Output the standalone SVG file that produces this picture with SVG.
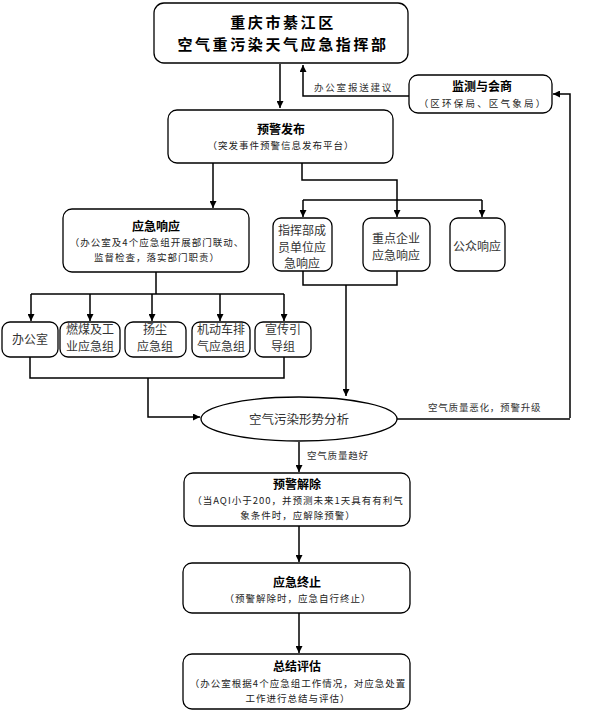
<svg xmlns="http://www.w3.org/2000/svg" width="591" height="712" viewBox="0 0 591 712">
<defs>
<marker id="ah" viewBox="0 0 10 10" refX="10" refY="5" markerWidth="7" markerHeight="7" markerUnits="userSpaceOnUse" orient="auto">
<path d="M0,0 L10,5 L0,10 z" fill="#000"/>
</marker>
<style>
.box{fill:#fff;stroke:#000;stroke-width:1.3}
.c{fill:none;stroke:#000;stroke-width:1.5}
.a{marker-end:url(#ah)}
text{font-family:"Noto Sans CJK SC","Noto Sans",sans-serif;fill:#222;text-anchor:middle}
.big{font-size:15px;font-weight:bold;letter-spacing:2.6px;fill:#000}
.t{font-size:12px;font-weight:bold;fill:#000}
.s{font-size:9.5px;letter-spacing:1px}
.m{font-size:12px;fill:#333}
.l{font-size:9.5px;text-anchor:start;fill:#333;letter-spacing:0.8px}
</style>
</defs>
<rect width="591" height="712" fill="#fff"/>
<g id="connectors">
<path class="c a" d="M280,64 V108"/>
<path class="c a" d="M409,96 H303 V65"/>
<path class="c a" d="M570,418 V94 H553"/>
<path class="c a" d="M213,163 V208"/>
<path class="c a" d="M302,163 V180 H397 V217"/>
<path class="c a" d="M303,200 V217"/>
<path class="c" d="M303,200 H482"/>
<path class="c a" d="M482,200 V217"/>
<path class="c" d="M156,272 V294"/>
<path class="c" d="M31,294 H284"/>
<path class="c a" d="M31,294 V321"/>
<path class="c a" d="M90,294 V321"/>
<path class="c a" d="M152,294 V321"/>
<path class="c a" d="M220,294 V321"/>
<path class="c a" d="M284,294 V321"/>
<path class="c" d="M30,357 V378 H284 V357"/>
<path class="c a" d="M148,378 V417 H200"/>
<path class="c" d="M303,271 V285 H397 V271"/>
<path class="c a" d="M346,285 V396"/>
<path class="c" d="M397,419 H570"/>
<path class="c a" d="M299,442 V472"/>
<path class="c a" d="M299,526 V562"/>
<path class="c a" d="M299,613 V653"/>
<text class="l" x="314" y="91" style="letter-spacing:1.8px">办公室报送建议</text>
<text class="l" x="428" y="411">空气质量恶化，预警升级</text>
<text class="l" x="307" y="459">空气质量趋好</text>
</g>
<g id="command">
<rect class="box" x="154" y="3" width="254" height="60" rx="10"/>
<text class="big" x="283" y="28">重庆市綦江区</text>
<text class="big" x="283" y="50">空气重污染天气应急指挥部</text>
</g>
<g id="monitor">
<rect class="box" x="409" y="75" width="143" height="38" rx="9"/>
<text class="t" x="482" y="91">监测与会商</text>
<text class="s" x="483" y="107" style="letter-spacing:2.2px">（区环保局、区气象局）</text>
</g>
<g id="warn">
<rect class="box" x="168" y="110" width="225" height="53" rx="9"/>
<text class="t" x="281" y="134">预警发布</text>
<text class="s" x="281" y="149">（突发事件预警信息发布平台）</text>
</g>
<g id="response">
<rect class="box" x="63" y="209" width="186" height="63" rx="9"/>
<text class="t" x="156" y="231">应急响应</text>
<text class="s" x="157" y="246">（办公室及4个应急组开展部门联动、</text>
<text class="s" x="157" y="261">监督检查，落实部门职责）</text>
</g>
<g id="member">
<rect class="box" x="273" y="218" width="59" height="53" rx="8"/>
<text class="m" x="302" y="235">指挥部成</text>
<text class="m" x="302" y="252">员单位应</text>
<text class="m" x="302" y="268">急响应</text>
</g>
<g id="enterprise">
<rect class="box" x="363" y="218" width="67" height="53" rx="8"/>
<text class="m" x="396" y="243">重点企业</text>
<text class="m" x="396" y="260">应急响应</text>
</g>
<g id="public">
<rect class="box" x="450" y="218" width="55" height="53" rx="8"/>
<text class="m" x="477" y="251">公众响应</text>
</g>
<g id="office">
<rect class="box" x="2" y="322" width="56" height="35" rx="8"/>
<text class="m" x="30" y="344">办公室</text>
</g>
<g id="coal">
<rect class="box" x="60" y="322" width="60" height="35" rx="8"/>
<text class="m" x="90" y="334">燃煤及工</text>
<text class="m" x="90" y="351">业应急组</text>
</g>
<g id="dust">
<rect class="box" x="125" y="322" width="61" height="35" rx="8"/>
<text class="m" x="155" y="334">扬尘</text>
<text class="m" x="155" y="351">应急组</text>
</g>
<g id="vehicle">
<rect class="box" x="192" y="322" width="58" height="35" rx="8"/>
<text class="m" x="221" y="334">机动车排</text>
<text class="m" x="221" y="351">气应急组</text>
</g>
<g id="publicity">
<rect class="box" x="255" y="322" width="56" height="35" rx="8"/>
<text class="m" x="283" y="334">宣传引</text>
<text class="m" x="283" y="351">导组</text>
</g>
<g id="analysis">
<ellipse class="box" cx="299" cy="419" rx="98" ry="22"/>
<text class="m" x="299" y="424" style="font-size:12.5px">空气污染形势分析</text>
</g>
<g id="lift">
<rect class="box" x="184" y="473" width="226" height="53" rx="9"/>
<text class="t" x="297" y="489">预警解除</text>
<text class="s" x="298" y="504">（当AQI小于200，并预测未来1天具有有利气</text>
<text class="s" x="298" y="519">象条件时，应解除预警）</text>
</g>
<g id="terminate">
<rect class="box" x="183" y="563" width="227" height="50" rx="9"/>
<text class="t" x="297" y="587">应急终止</text>
<text class="s" x="298" y="602">（预警解除时，应急自行终止）</text>
</g>
<g id="summary">
<rect class="box" x="183" y="654" width="227" height="55" rx="9"/>
<text class="t" x="297" y="671">总结评估</text>
<text class="s" x="298" y="687">（办公室根据4个应急组工作情况，对应急处置</text>
<text class="s" x="298" y="702">工作进行总结与评估）</text>
</g>
</svg>
